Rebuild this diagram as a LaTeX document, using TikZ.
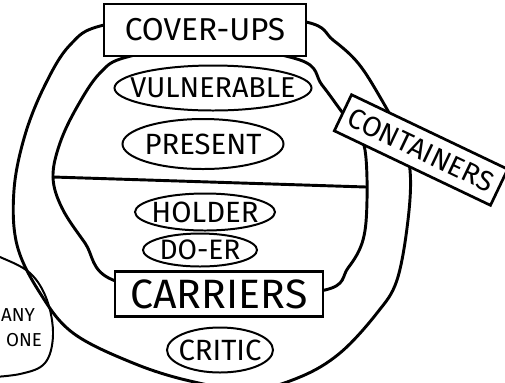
\documentclass[tikz,border=0pt]{standalone}
\usepackage{fontspec}
\setmainfont{Fira Sans}
\usetikzlibrary{shapes.geometric}

\newcommand{\handsize}[1]{\fontsize{#1}{#1}\selectfont}

\begin{document}
\begin{tikzpicture}[x=0.03cm, y=-0.03cm,
    ring/.style={line width=2.5pt, line join=round, line cap=round},
    tagbox/.style={draw, line width=2.3pt, fill=white, inner sep=0pt},
    role/.style={draw, ellipse, line width=1.7pt, fill=white, inner sep=0pt}
]

\clip (0,0) rectangle (505,382);

% --- outer ring ---
\draw[ring] plot[smooth cycle, tension=0.6] coordinates {
    (205,12) (306,22) (333,40) (358,63) (380,97) (400,135) (410,170)
    (408,220) (397,280) (377,313) (340,353) (300,377) (250,390)
    (190,381) (133,363) (73,333) (40,293) (17,245) (14,190) (25,135)
    (45,85) (70,45) (104,25)};

% --- inner ring ---
\draw[ring] plot[smooth cycle, tension=0.6] coordinates {
    (205,45) (300,60) (322,85) (342,112) (355,128) (365,150) (367,200)
    (363,240) (348,268) (325,290) (220,298) (113,280) (85,243) (62,208)
    (53,177) (60,143) (77,107) (100,73) (127,57)};

% --- divider ---
\coordinate (divl) at (53,177);
\coordinate (divr) at (366,187);
\draw[ring] (divl) -- (divr);

% --- tag boxes ---
\node[tagbox, minimum width=6.06cm, minimum height=1.56cm, font=\handsize{27}] (cover) at (205,30) {COVER-UPS};
\node[tagbox, minimum width=6.24cm, minimum height=1.35cm, font=\handsize{35}] (carriers) at (219,294) {CARRIERS};
\node[tagbox, rotate=-25.5, minimum width=5.19cm, minimum height=1.2cm, font=\handsize{24}] (containers) at (421,150) {CONTAINERS};

% --- roles ---
\node[role, minimum width=5.91cm, minimum height=1.35cm, label={[font=\handsize{24.5}]center:VULNERABLE}] (vulnerable) at (213,88) {};
\node[role, minimum width=4.83cm, minimum height=1.5cm, label={[font=\handsize{25}]center:PRESENT}] (present) at (203,144) {};
\node[role, minimum width=4.2cm, minimum height=1.11cm, label={[font=\handsize{25}]center:HOLDER}] (holder) at (205,212) {};
\node[role, minimum width=3.42cm, minimum height=0.99cm, label={[font=\handsize{24}]center:DO-ER}] (doer) at (200,250) {};
\node[role, minimum width=3.18cm, minimum height=1.35cm, label={[font=\handsize{25}]center:CRITIC}] (critic) at (220,350) {};

% --- any one ---
\draw[line width=1.7pt, line join=round] plot[smooth, tension=0.6] coordinates {
    (-20,250) (0,257) (30,273) (47,300) (53,335) (45,363) (20,374) (-20,378)};
\node[font=\handsize{16}] (any) at (18,315) {ANY};
\node[font=\handsize{16}] (one) at (24,340) {ONE};

\end{tikzpicture}
\end{document}
